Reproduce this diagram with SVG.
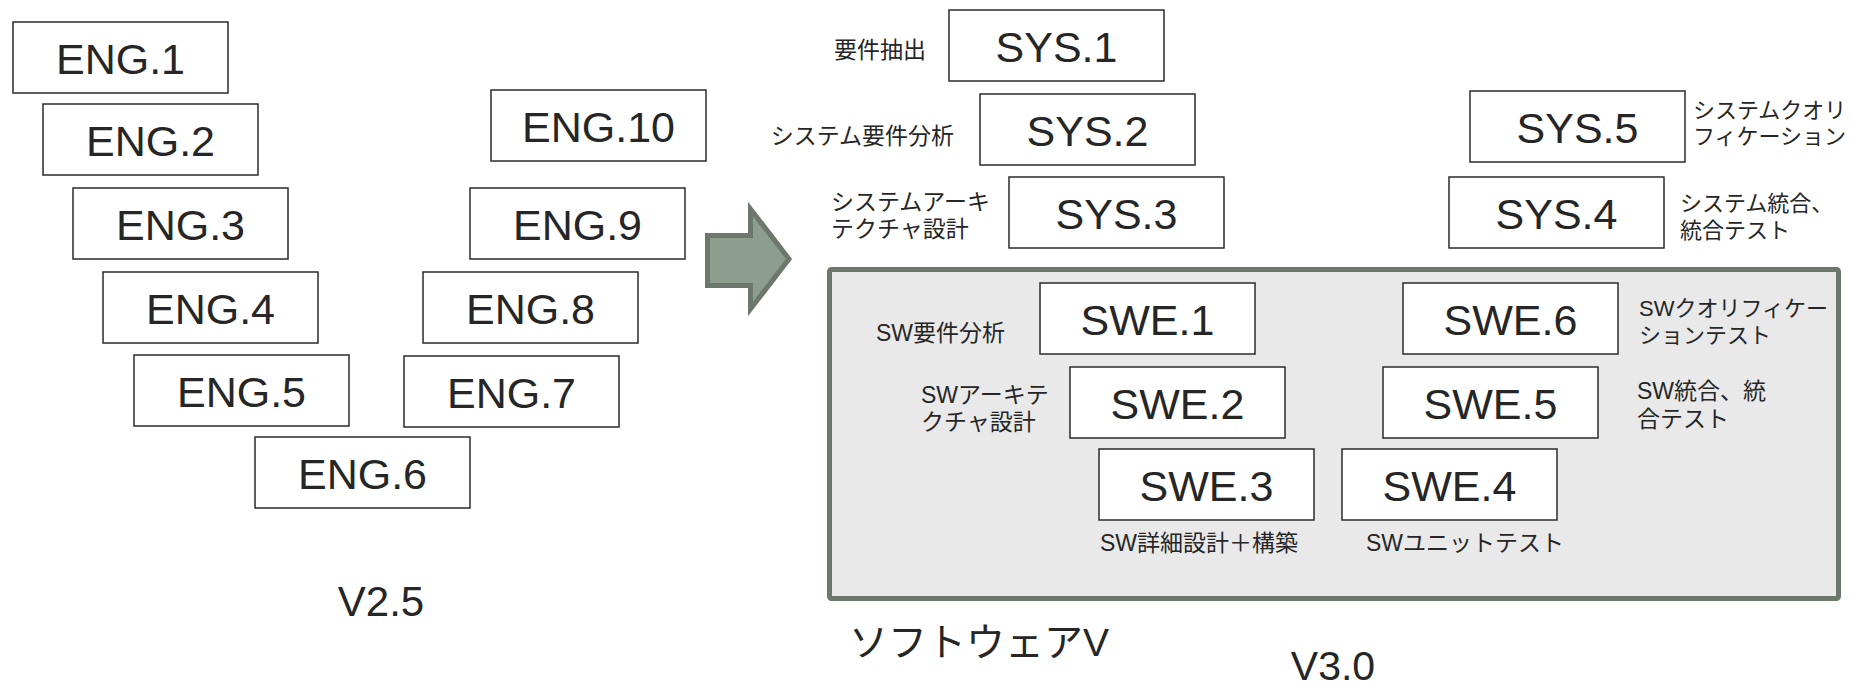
<svg xmlns="http://www.w3.org/2000/svg" width="1852" height="690" viewBox="0 0 1852 690">
<style>
.box rect{fill:#ffffff;stroke:#2b2b2b;stroke-width:1.5}
.box text{font-family:"Liberation Sans","Noto Sans CJK JP",sans-serif;font-size:43px;fill:#262626;text-anchor:middle}
.lbl{font-family:"Liberation Sans","Noto Sans CJK JP",sans-serif;font-size:23px;fill:#262626}
.sm{font-size:22px}
.big{font-family:"Liberation Sans","Noto Sans CJK JP",sans-serif;font-size:42px;fill:#262626}
</style>
<rect width="1852" height="690" fill="#ffffff"/>
<g id="arrow">
<polygon points="707.5,235.5 750.5,235.5 750.5,209 789,259 750.5,309 750.5,285.5 707.5,285.5" fill="#8e9e8e" stroke="#6b786b" stroke-width="5" stroke-linejoin="miter"/>
</g>
<g id="software-v">
<rect x="829.5" y="269.5" width="1009" height="329" rx="2" fill="#e9e9e9" stroke="#6b786b" stroke-width="5"/>
</g>
<g id="connectors"></g>
<g id="eng1" class="box"><rect x="13" y="22" width="215" height="71"/><text x="120.5" y="73.5">ENG.1</text></g>
<g id="eng2" class="box"><rect x="43" y="104" width="215" height="71"/><text x="150.5" y="155.5">ENG.2</text></g>
<g id="eng3" class="box"><rect x="73" y="188" width="215" height="71"/><text x="180.5" y="239.5">ENG.3</text></g>
<g id="eng4" class="box"><rect x="103" y="272" width="215" height="71"/><text x="210.5" y="323.5">ENG.4</text></g>
<g id="eng5" class="box"><rect x="134" y="355" width="215" height="71"/><text x="241.5" y="406.5">ENG.5</text></g>
<g id="eng6" class="box"><rect x="255" y="437" width="215" height="71"/><text x="362.5" y="488.5">ENG.6</text></g>
<g id="eng7" class="box"><rect x="404" y="356" width="215" height="71"/><text x="511.5" y="407.5">ENG.7</text></g>
<g id="eng8" class="box"><rect x="423" y="272" width="215" height="71"/><text x="530.5" y="323.5">ENG.8</text></g>
<g id="eng9" class="box"><rect x="470" y="188" width="215" height="71"/><text x="577.5" y="239.5">ENG.9</text></g>
<g id="eng10" class="box"><rect x="491" y="90" width="215" height="71"/><text x="598.5" y="141.5">ENG.10</text></g>
<g id="sys1" class="box"><rect x="949" y="10" width="215" height="71"/><text x="1056.5" y="61.5">SYS.1</text></g>
<g id="sys2" class="box"><rect x="980" y="94" width="215" height="71"/><text x="1087.5" y="145.5">SYS.2</text></g>
<g id="sys3" class="box"><rect x="1009" y="177" width="215" height="71"/><text x="1116.5" y="228.5">SYS.3</text></g>
<g id="sys4" class="box"><rect x="1449" y="177" width="215" height="71"/><text x="1556.5" y="228.5">SYS.4</text></g>
<g id="sys5" class="box"><rect x="1470" y="91" width="215" height="71"/><text x="1577.5" y="142.5">SYS.5</text></g>
<g id="swe1" class="box"><rect x="1040" y="283" width="215" height="71"/><text x="1147.5" y="334.5">SWE.1</text></g>
<g id="swe2" class="box"><rect x="1070" y="367" width="215" height="71"/><text x="1177.5" y="418.5">SWE.2</text></g>
<g id="swe3" class="box"><rect x="1099" y="449" width="215" height="71"/><text x="1206.5" y="500.5">SWE.3</text></g>
<g id="swe4" class="box"><rect x="1342" y="449" width="215" height="71"/><text x="1449.5" y="500.5">SWE.4</text></g>
<g id="swe5" class="box"><rect x="1383" y="367" width="215" height="71"/><text x="1490.5" y="418.5">SWE.5</text></g>
<g id="swe6" class="box"><rect x="1403" y="283" width="215" height="71"/><text x="1510.5" y="334.5">SWE.6</text></g>
<g id="labels">
<text class="lbl" x="926" y="58" text-anchor="end">要件抽出</text>
<text class="lbl" x="954" y="144" text-anchor="end">システム要件分析</text>
<text class="lbl" x="831" y="210">システムアーキ</text>
<text class="lbl" x="831" y="237">テクチャ設計</text>
<text class="lbl sm" x="1693" y="118">システムクオリ</text>
<text class="lbl sm" x="1693" y="144">フィケーション</text>
<text class="lbl sm" x="1680" y="211">システム統合、</text>
<text class="lbl sm" x="1680" y="238">統合テスト</text>
<text class="lbl" x="876" y="341">SW要件分析</text>
<text class="lbl" x="921" y="403">SWアーキテ</text>
<text class="lbl" x="921" y="430">クチャ設計</text>
<text class="lbl" x="1100" y="551">SW詳細設計＋構築</text>
<text class="lbl" x="1366" y="551">SWユニットテスト</text>
<text class="lbl sm" x="1639" y="316">SWクオリフィケー</text>
<text class="lbl sm" x="1639" y="343">ションテスト</text>
<text class="lbl" x="1637" y="399">SW統合、統</text>
<text class="lbl" x="1637" y="427">合テスト</text>
<text class="big" x="381" y="616" text-anchor="middle">V2.5</text>
<text class="big" x="1333" y="680" text-anchor="middle" style="font-size:41px">V3.0</text>
<text class="big" x="849" y="656" style="font-size:39px">ソフトウェアV</text>
</g>
</svg>
